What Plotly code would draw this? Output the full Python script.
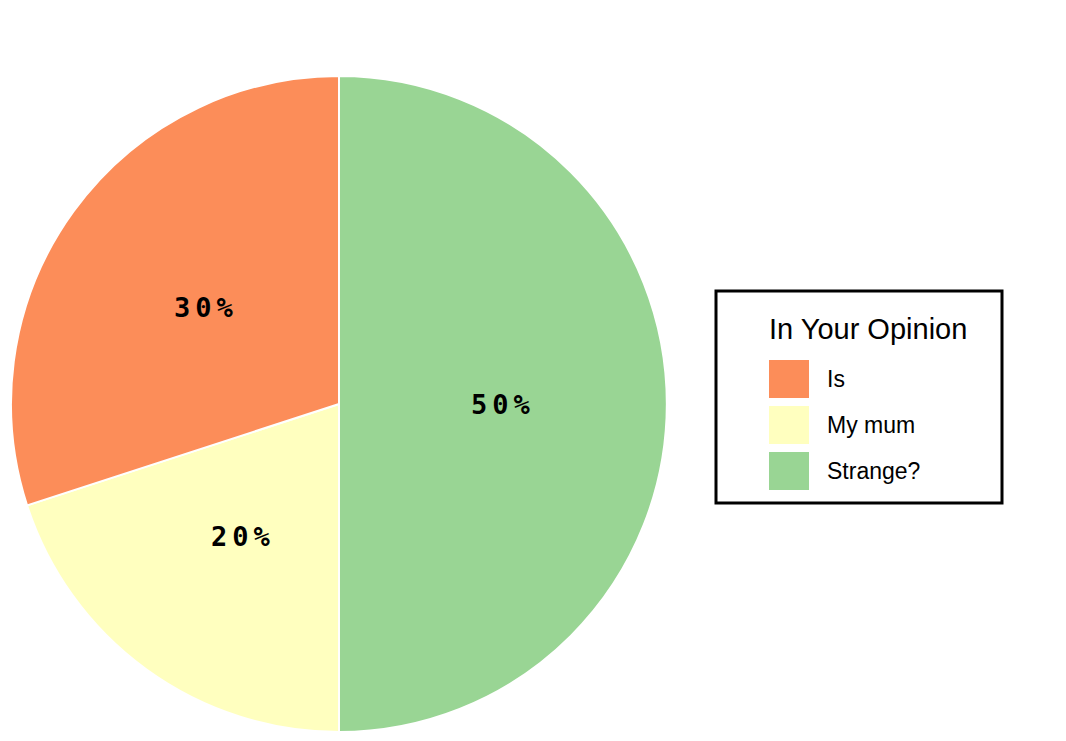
import math
import plotly.graph_objects as go

labels = ["Is", "My mum", "Strange?"]
values = [30, 20, 50]
colors = ["#fc8d59", "#ffffbf", "#99d594"]
legend_title = "In Your Opinion"

# page has an 8px body margin; window 1066x741
OFF = 8
W, H = 1066 - 2 * OFF, 741 - 2 * OFF


def px(x):
    return (x - OFF) / W


def py(y):
    return 1 - (y - OFF) / H


total = sum(values)
pct = [round(v / total * 100) for v in values]

dom_x = [px(11), px(667)]
dom_y = [py(732), py(76)]

# slices laid out clockwise from 12 o'clock in reverse order (matches reference)
fig = go.Figure(go.Pie(
    labels=labels[::-1],
    values=values[::-1],
    textinfo="none",
    sort=False,
    direction="clockwise",
    rotation=0,
    marker=dict(colors=colors[::-1], line=dict(color="white", width=2)),
    domain=dict(x=dom_x, y=dom_y),
    showlegend=False,
    hoverinfo="label+percent",
))

# percentage labels at half radius along each slice's mid angle
cx, cy = (dom_x[0] + dom_x[1]) / 2, (dom_y[0] + dom_y[1]) / 2
rx = (dom_x[1] - dom_x[0]) / 2
ry = (dom_y[1] - dom_y[0]) / 2
annotations = []
cum = 0.0
for v, p in zip(values[::-1], pct[::-1]):
    mid = (cum + v / 2) / total * 2 * math.pi
    cum += v
    annotations.append(dict(
        text=f"<span style='letter-spacing:5px'>{p}%</span>",
        xref="paper", yref="paper",
        x=cx + 0.5 * rx * math.sin(mid), y=cy + 0.5 * ry * math.cos(mid),
        showarrow=False, xanchor="center", yanchor="middle",
        font=dict(family="DejaVu Sans Mono", size=27, color="black", weight="bold"),
    ))

# legend box drawn manually
bx0, bx1, by0, by1 = 716, 1002, 291, 503
shapes = [dict(type="rect", xref="paper", yref="paper",
               x0=px(bx0), x1=px(bx1), y0=py(by1), y1=py(by0),
               line=dict(color="black", width=3), fillcolor="white")]
annotations.append(dict(text=legend_title, xref="paper", yref="paper",
                        x=px(868), y=py(329), showarrow=False,
                        xanchor="center", yanchor="middle",
                        font=dict(family="Liberation Sans, Arial", size=29, color="black")))
for i, (lab, col) in enumerate(zip(labels, colors)):
    top = 360 + 46 * i
    shapes.append(dict(type="rect", xref="paper", yref="paper",
                       x0=px(769), x1=px(809), y0=py(top + 38), y1=py(top),
                       line=dict(width=0), fillcolor=col))
    annotations.append(dict(text=lab, xref="paper", yref="paper",
                            x=px(825), y=py(top + 19), showarrow=False,
                            xanchor="left", yanchor="middle",
                            font=dict(family="Liberation Sans, Arial", size=23, color="black")))

fig.update_layout(
    width=W, height=H,
    margin=dict(l=0, r=0, t=0, b=0),
    paper_bgcolor="white", plot_bgcolor="white",
    shapes=shapes, annotations=annotations,
)

fig.write_html("out.html")
